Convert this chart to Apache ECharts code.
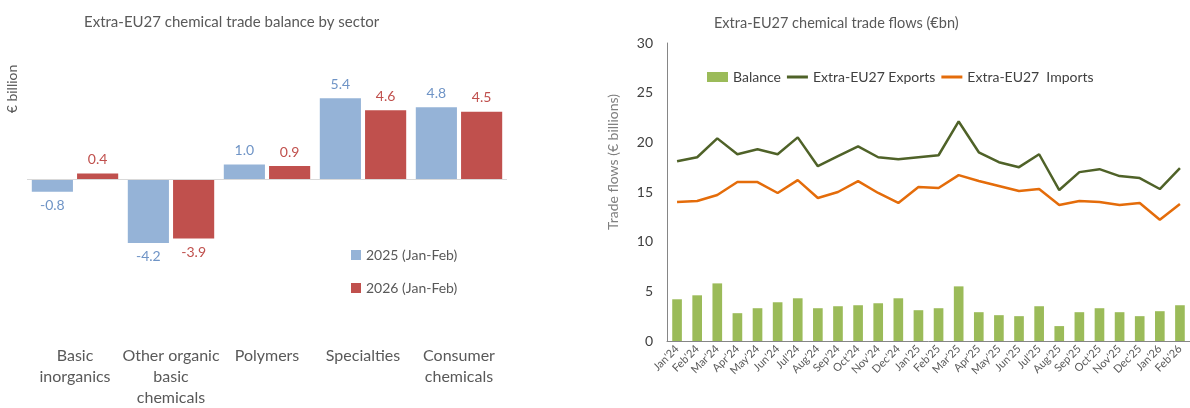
<!DOCTYPE html>
<html>
<head>
<meta charset="utf-8">
<script src="https://cdn.jsdelivr.net/npm/echarts@6/dist/echarts.min.js"></script>
<style>
    html, body { margin: 0; padding: 0; background: #fff; }
    #chart { width: 1190px; height: 408px; }
</style>
</head>
<body>
<div id="chart"></div>
<script>
    // left panel: balance by sector
    var sectors = ['Basic\ninorganics', 'Other organic\nbasic\nchemicals', 'Polymers', 'Specialties', 'Consumer\nchemicals'];
    var balance2025 = [-0.8, -4.2, 1.0, 5.4, 4.8];
    var balance2026 = [0.4, -3.9, 0.9, 4.6, 4.5];

    // right panel: monthly flows
    var months = ["Jan'24", "Feb'24", "Mar'24", "Apr'24", "May'24", "Jun'24", "Jul'24", "Aug'24", "Sep'24", "Oct'24", "Nov'24", "Dec'24",
        "Jan'25", "Feb'25", "Mar'25", "Apr'25", "May'25", "Jun'25", "Jul'25", "Aug'25", "Sep'25", "Oct'25", "Nov'25", "Dec'25",
        "Jan'26", "Feb'26"];
    var monthlyBalance = [4.2, 4.6, 5.8, 2.8, 3.3, 3.9, 4.3, 3.3, 3.5, 3.6, 3.8, 4.3,
        3.1, 3.3, 5.5, 2.9, 2.6, 2.5, 3.5, 1.5, 2.9, 3.3, 2.9, 2.5, 3.0, 3.6];
    var exportsEU = [18.1, 18.5, 20.4, 18.8, 19.3, 18.8, 20.5, 17.6, 18.6, 19.6, 18.5, 18.3,
        18.5, 18.7, 22.1, 19.0, 18.0, 17.5, 18.8, 15.2, 17.0, 17.3, 16.6, 16.4, 15.3, 17.4];
    var importsEU = [14.0, 14.1, 14.7, 16.0, 16.0, 14.9, 16.2, 14.4, 15.0, 16.1, 14.9, 13.9,
        15.5, 15.4, 16.7, 16.1, 15.6, 15.1, 15.3, 13.7, 14.1, 14.0, 13.7, 13.9, 12.2, 13.8];

    var font = 'Lato, "Open Sans", sans-serif';
    // plain stroke for the line entries of the legend
    var lineIcon = 'path://M0,0 L21,0 L21,3 L0,3 Z';

    function withLabel(values, color) {
        return values.map(function (v) {
            return {
                value: v,
                label: { position: v < 0 ? 'bottom' : 'top', color: color }
            };
        });
    }

    var myChart = echarts.init(document.getElementById('chart'));

    var option = {
        animation: false,
        textStyle: { fontFamily: font },
        title: [
            {
                text: 'Extra-EU27 chemical trade balance by sector',
                left: 79, top: 10,
                textStyle: { fontSize: 15, fontWeight: 'normal', color: '#595959', fontFamily: font }
            },
            {
                text: 'Extra-EU27 chemical trade flows (€bn)',
                left: 709, top: 11,
                textStyle: { fontSize: 14.5, fontWeight: 'normal', color: '#595959', fontFamily: font }
            }
        ],
        legend: [
            {
                orient: 'vertical',
                left: 346, top: 243,
                itemWidth: 10, itemHeight: 10, itemGap: 19,
                icon: 'rect',
                textStyle: { fontSize: 14, color: '#595959', fontFamily: font },
                data: ['2025 (Jan-Feb)', '2026 (Jan-Feb)']
            },
            {
                left: 702, top: 65,
                itemWidth: 21, itemHeight: 10, itemGap: 6,
                textStyle: { fontSize: 14, color: '#404040', fontFamily: font },
                data: [
                    { name: 'Balance', icon: 'rect' },
                    { name: 'Extra-EU27 Exports', icon: lineIcon },
                    { name: 'Extra-EU27  Imports', icon: lineIcon }
                ]
            }
        ],
        graphic: [
            {
                type: 'text', x: 12, y: 89, rotation: Math.PI / 2,
                style: { text: '€ billion', fill: '#595959', fontSize: 14, fontFamily: font, align: 'center', verticalAlign: 'middle' }
            },
            {
                type: 'text', x: 613, y: 162, rotation: Math.PI / 2,
                style: { text: 'Trade flows (€ billions)', fill: '#7f7f7f', fontSize: 14, fontFamily: font, align: 'center', verticalAlign: 'middle' }
            }
        ],
        grid: [
            { left: 27, top: 74, width: 480, height: 265 },
            { left: 667, top: 43, right: 0, height: 298 }
        ],
        xAxis: [
            {
                type: 'category', gridIndex: 0, data: sectors,
                axisLine: { show: false }, axisTick: { show: false },
                axisLabel: { fontSize: 16, color: '#595959', lineHeight: 21, margin: 7, interval: 0, fontFamily: font }
            },
            {
                type: 'category', gridIndex: 1, data: months,
                axisLine: { lineStyle: { color: '#868686' } }, axisTick: { show: false },
                axisLabel: { fontSize: 11, color: '#595959', rotate: 45, margin: 6, interval: 0, fontFamily: font }
            }
        ],
        yAxis: [
            {
                type: 'value', gridIndex: 0, min: -10.5, max: 7,
                axisLine: { show: false }, axisTick: { show: false },
                axisLabel: { show: false }, splitLine: { show: false }
            },
            {
                type: 'value', gridIndex: 1, min: 0, max: 30, interval: 5,
                axisLine: { show: true, lineStyle: { color: '#868686' } }, axisTick: { show: false },
                axisLabel: { fontSize: 14, color: '#404040', margin: 14, fontFamily: font },
                splitLine: { show: false }
            }
        ],
        series: [
            {
                name: '2025 (Jan-Feb)', type: 'bar', xAxisIndex: 0, yAxisIndex: 0,
                barCategoryGap: '10%', barGap: '10%',
                itemStyle: { color: '#95b3d7' },
                label: { show: true, fontSize: 14, distance: 7, formatter: function (p) { return p.value.toFixed(1); } },
                data: withLabel(balance2025, '#6f94c6'),
                markLine: {
                    silent: true, symbol: 'none', label: { show: false },
                    lineStyle: { color: '#d9d9d9', type: 'solid', width: 1 },
                    data: [{ yAxis: 0 }]
                }
            },
            {
                name: '2026 (Jan-Feb)', type: 'bar', xAxisIndex: 0, yAxisIndex: 0,
                itemStyle: { color: '#c0504d' },
                label: { show: true, fontSize: 14, distance: 7, formatter: function (p) { return p.value.toFixed(1); } },
                data: withLabel(balance2026, '#c0504d')
            },
            {
                name: 'Balance', type: 'bar', xAxisIndex: 1, yAxisIndex: 1,
                barCategoryGap: '52%',
                itemStyle: { color: '#9bbb59' },
                data: monthlyBalance
            },
            {
                name: 'Extra-EU27 Exports', type: 'line', xAxisIndex: 1, yAxisIndex: 1,
                symbol: 'none',
                lineStyle: { color: '#4f6228', width: 2.5 },
                itemStyle: { color: '#4f6228' },
                data: exportsEU
            },
            {
                name: 'Extra-EU27  Imports', type: 'line', xAxisIndex: 1, yAxisIndex: 1,
                symbol: 'none',
                lineStyle: { color: '#e46c0a', width: 2.5 },
                itemStyle: { color: '#e46c0a' },
                data: importsEU
            }
        ]
    };

    myChart.setOption(option);
</script>
</body>
</html>
